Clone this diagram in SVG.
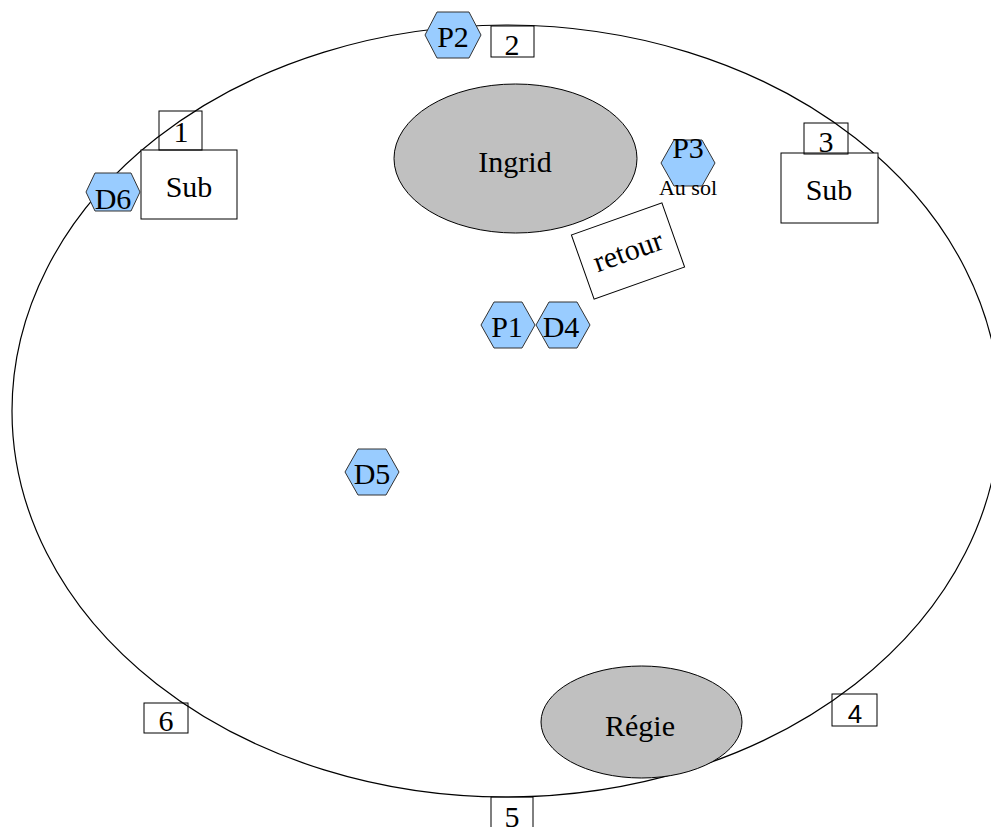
<svg xmlns="http://www.w3.org/2000/svg" width="991" height="827" viewBox="0 0 991 827">
<style>
.t{font-family:"Liberation Serif","Times New Roman",serif;font-size:30px;fill:#000;text-anchor:middle}
.s{font-family:"Liberation Sans",Arial,sans-serif;font-size:26px;fill:#000;text-anchor:middle}
.hex{fill:#99ccff;stroke:#333;stroke-width:1}
.box{fill:none;stroke:#000;stroke-width:1}
.wbox{fill:#fff;stroke:#000;stroke-width:1}
.gray{fill:#c0c0c0;stroke:#000;stroke-width:1}
</style>
<rect width="991" height="827" fill="#fff"/>
<g id="stage"><ellipse cx="506" cy="411" rx="494" ry="386" fill="none" stroke="#000" stroke-width="1.2"/></g>
<g id="ingrid"><ellipse class="gray" cx="515.5" cy="158.5" rx="121.5" ry="74.5"/><text class="t" x="515" y="172">Ingrid</text></g>
<g id="regie"><ellipse class="gray" cx="641.5" cy="722" rx="100.5" ry="56"/><text class="t" x="640" y="736">Régie</text></g>
<g id="sub1"><rect class="wbox" x="141" y="150" width="96" height="69"/><text class="t" x="189" y="197">Sub</text></g>
<g id="sub3"><rect class="wbox" x="781" y="153" width="97" height="70"/><text class="t" x="829" y="200">Sub</text></g>
<g id="box1"><rect class="box" x="159" y="111" width="43" height="39"/><text class="t" x="181" y="142">1</text></g>
<g id="box2"><rect class="box" x="491" y="26" width="43" height="31"/><text class="t" x="512" y="55">2</text></g>
<g id="box3"><rect class="box" x="804" y="123" width="44" height="31"/><text class="t" x="826" y="152">3</text></g>
<g id="box4"><rect class="box" x="832" y="694" width="45" height="32"/><text class="s" x="855" y="723">4</text></g>
<g id="box5"><rect class="box" x="491" y="797" width="42" height="40"/><text class="t" x="512" y="827">5</text></g>
<g id="box6"><rect class="box" x="144" y="703" width="44" height="30"/><text class="t" x="166" y="731">6</text></g>
<g id="retour" transform="rotate(-19.5 628 251)"><rect class="wbox" x="580" y="217" width="96" height="68"/><text class="t" x="628" y="261">retour</text></g>
<g id="p2"><polygon class="hex" points="425,35 437,12 469,12 481,35 469,58 437,58"/><text class="t" x="453" y="47">P2</text></g>
<g id="d6"><polygon class="hex" points="86,192 95,173 131,173 140,192 131,211 95,211"/><text class="t" x="113" y="209">D6</text></g>
<g id="p3"><polygon class="hex" points="661,163 674,140 702,140 715,163 702,186 674,186"/><text class="t" x="688" y="158">P3</text><text class="t" x="688" y="195" style="font-size:22px">Au sol</text></g>
<g id="p1"><polygon class="hex" points="481,325 494,302 522,302 535,325 522,348 494,348"/><text class="t" x="507" y="337">P1</text></g>
<g id="d4"><polygon class="hex" points="536,325 549,302 577,302 590,325 577,348 549,348"/><text class="t" x="561" y="337">D4</text></g>
<g id="d5"><polygon class="hex" points="345,472 358,449 386,449 399,472 386,495 358,495"/><text class="t" x="372" y="484">D5</text></g>
</svg>
